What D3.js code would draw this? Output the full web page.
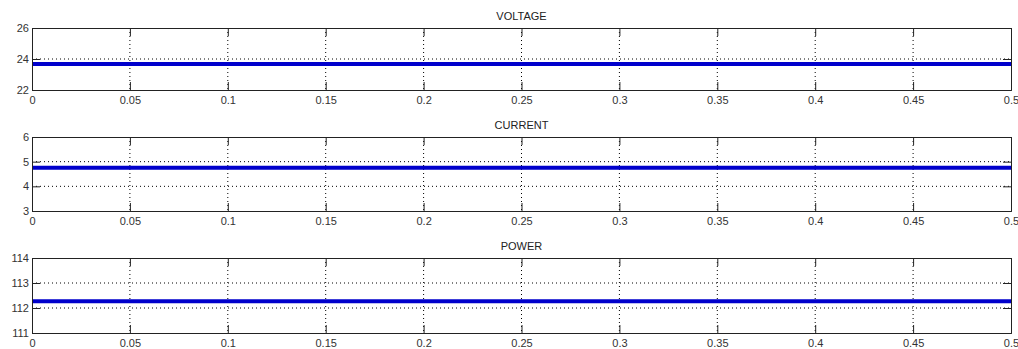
<!DOCTYPE html>
<html>
<head>
<meta charset="utf-8">
<script src="https://cdn.jsdelivr.net/npm/d3@7"></script>
<style>
  html, body { margin: 0; padding: 0; background: #fff; }
  svg { display: block; }
  .axis text { font-family: Arial, "Liberation Sans", sans-serif; font-size: 11px; fill: #333; }
  .axis path, .axis line { stroke: #222; }
  .grid line { stroke: #000; stroke-dasharray: 1,3; }
  .title { font-family: Arial, "Liberation Sans", sans-serif; font-size: 11px; fill: #222; }
</style>
</head>
<body>
<div id="chart"></div>
<script>
// ----------------------------------
// DATA
// ----------------------------------
const time = [0, 0.1, 0.2, 0.3, 0.4, 0.5];
const voltage = [23.68, 23.68, 23.68, 23.68, 23.68, 23.68];
const current = [4.75, 4.75, 4.75, 4.75, 4.75, 4.75];
const power = [112.27, 112.27, 112.27, 112.27, 112.27, 112.27];

const xTicks = [0, 0.05, 0.1, 0.15, 0.2, 0.25, 0.3, 0.35, 0.4, 0.45, 0.5];
const titles = ['VOLTAGE', 'CURRENT', 'POWER'];
const yDomains = [[22, 26], [3, 6], [111, 114]];
const yTicks = [[22, 24, 26], [3, 4, 5, 6], [111, 112, 113, 114]];
const seriesList = [voltage, current, power];

// ----------------------------------
// LAYOUT
// ----------------------------------
const width = 1018, height = 349;
const left = 32, right = 1011;
const panels = [
	{top: 28, bottom: 90},
	{top: 137, bottom: 211},
	{top: 258, bottom: 333}
];

const svg = d3.select('#chart')
	.append('svg')
	.attr('width', width)
	.attr('height', height);

const xScale = d3.scaleLinear()
	.domain([0, 0.5])
	.range([left, right]);

panels.forEach((p, i) => {
	const yScale = d3.scaleLinear()
		.domain(yDomains[i])
		.range([p.bottom, p.top]);

	const g = svg.append('g');

	// dotted grid
	const grid = g.append('g').classed('grid', true);
	grid.selectAll('line.v')
		.data(xTicks.slice(1, -1))
		.enter()
		.append('line')
			.classed('v', true)
			.attr('x1', d => xScale(d))
			.attr('x2', d => xScale(d))
			.attr('y1', p.top)
			.attr('y2', p.bottom);
	grid.selectAll('line.h')
		.data(yTicks[i].slice(1, -1))
		.enter()
		.append('line')
			.classed('h', true)
			.attr('x1', left)
			.attr('x2', right)
			.attr('y1', d => yScale(d))
			.attr('y2', d => yScale(d));

	// the line
	const line = d3.line()
		.x((d, j) => xScale(time[j]))
		.y(d => yScale(d));

	g.append('path')
		.datum(seriesList[i])
		.attr('d', line)
		.style('fill', 'none')
		.style('stroke', '#0000cc')
		.style('stroke-width', 4);

	// axes with inward ticks
	g.append('g')
		.classed('axis', true)
		.attr('transform', `translate(0,${p.bottom})`)
		.call(d3.axisBottom(xScale).tickValues(xTicks).tickSize(-8).tickPadding(4).tickFormat(d3.format('')))
		.call(s => s.selectAll('text').attr('dy', '0.95em'));

	g.append('g')
		.classed('axis', true)
		.attr('transform', `translate(0,${p.top})`)
		.call(d3.axisTop(xScale).tickValues(xTicks).tickSize(-8).tickFormat(''));

	g.append('g')
		.classed('axis', true)
		.attr('transform', `translate(${left},0)`)
		.call(d3.axisLeft(yScale).tickValues(yTicks[i]).tickSize(-8).tickPadding(3).tickFormat(d3.format('d')));

	g.append('g')
		.classed('axis', true)
		.attr('transform', `translate(${right},0)`)
		.call(d3.axisRight(yScale).tickValues(yTicks[i]).tickSize(-8).tickFormat(''));

	g.selectAll('.axis path').style('fill', 'none');

	// title
	g.append('text')
		.classed('title', true)
		.text(titles[i])
		.attr('x', (left + right) / 2)
		.attr('y', p.top - 8)
		.attr('text-anchor', 'middle');
});
</script>
</body>
</html>
